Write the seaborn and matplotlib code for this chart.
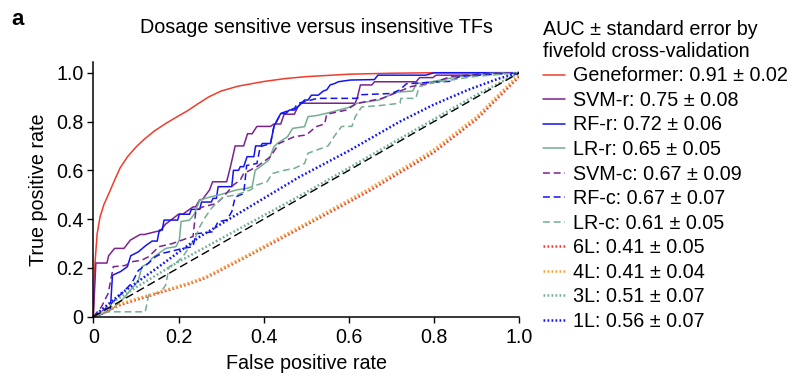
import numpy as np
import pandas as pd
import matplotlib
matplotlib.use("Agg")
import matplotlib.pyplot as plt
import seaborn as sns

# ---------------- data ----------------
geneformer = [(0, 0), (0.004, 0.22), (0.009, 0.34), (0.016, 0.41), (0.025, 0.46), (0.039, 0.515),
              (0.05, 0.56), (0.063, 0.61), (0.08, 0.655), (0.1, 0.695), (0.12, 0.728),
              (0.144, 0.762), (0.17, 0.792), (0.2, 0.823), (0.222, 0.845), (0.245, 0.872),
              (0.27, 0.9), (0.3, 0.925), (0.34, 0.945), (0.4, 0.964), (0.45, 0.976),
              (0.5, 0.984), (0.6, 0.994), (0.7, 0.998), (0.8, 1.0), (1.0, 1.0)]
svm_r = [(0, 0), (0.006, 0.22), (0.032, 0.22), (0.036, 0.25), (0.05, 0.28), (0.072, 0.28),
         (0.087, 0.314), (0.11, 0.337), (0.12, 0.337), (0.15, 0.35), (0.156, 0.35), (0.17, 0.38),
         (0.2, 0.42), (0.21, 0.42), (0.234, 0.45), (0.24, 0.45), (0.25, 0.48), (0.256, 0.48),
         (0.273, 0.52), (0.28, 0.553), (0.313, 0.553), (0.322, 0.615), (0.333, 0.70),
         (0.353, 0.70), (0.362, 0.75), (0.373, 0.75), (0.384, 0.78), (0.416, 0.78),
         (0.424, 0.79), (0.44, 0.79), (0.448, 0.83), (0.472, 0.83), (0.48, 0.86),
         (0.488, 0.875), (0.615, 0.875), (0.62, 0.90), (0.627, 0.95), (0.654, 0.95),
         (0.66, 0.963), (0.758, 0.963), (0.766, 0.98), (0.797, 0.98), (0.805, 0.99),
         (0.893, 0.99), (0.909, 1.0), (1, 1)]
rf_r = [(0, 0), (0.02, 0.01), (0.04, 0.03), (0.045, 0.17), (0.064, 0.185), (0.08, 0.205),
        (0.088, 0.25), (0.106, 0.266), (0.122, 0.29), (0.138, 0.31), (0.15, 0.31),
        (0.155, 0.355), (0.162, 0.355), (0.166, 0.396), (0.198, 0.396), (0.202, 0.42),
        (0.226, 0.42), (0.23, 0.44), (0.25, 0.44), (0.254, 0.47), (0.277, 0.47),
        (0.281, 0.485), (0.289, 0.485), (0.293, 0.533), (0.325, 0.533), (0.329, 0.60),
        (0.341, 0.60), (0.345, 0.615), (0.353, 0.615), (0.361, 0.656), (0.377, 0.656),
        (0.381, 0.70), (0.393, 0.70), (0.397, 0.71), (0.416, 0.71), (0.424, 0.78),
        (0.44, 0.833), (0.452, 0.833), (0.46, 0.847), (0.472, 0.847), (0.48, 0.86),
        (0.496, 0.888), (0.504, 0.888), (0.512, 0.908), (0.528, 0.908), (0.54, 0.925),
        (0.548, 0.93), (0.556, 0.95), (0.567, 0.956), (0.575, 0.963), (0.603, 0.97),
        (0.66, 0.972), (0.668, 0.99), (0.78, 0.99), (0.8, 1.0), (1, 1)]
lr_r = [(0, 0), (0.011, 0.007), (0.035, 0.02), (0.05, 0.04), (0.075, 0.082), (0.087, 0.109),
        (0.098, 0.13), (0.106, 0.15), (0.114, 0.205), (0.13, 0.22), (0.138, 0.24),
        (0.154, 0.26), (0.17, 0.28), (0.194, 0.287), (0.202, 0.314), (0.206, 0.39),
        (0.226, 0.396), (0.237, 0.42), (0.25, 0.478), (0.273, 0.49), (0.297, 0.50),
        (0.321, 0.512), (0.337, 0.52), (0.36, 0.526), (0.373, 0.533), (0.38, 0.60),
        (0.392, 0.615), (0.412, 0.642), (0.424, 0.697), (0.432, 0.71), (0.456, 0.738),
        (0.468, 0.772), (0.496, 0.779), (0.504, 0.82), (0.526, 0.825), (0.55, 0.835),
        (0.598, 0.857), (0.618, 0.874), (0.67, 0.888), (0.686, 0.90), (0.71, 0.92),
        (0.75, 0.925), (0.758, 0.955), (0.8, 0.965), (0.84, 0.978), (0.88, 0.99),
        (0.93, 0.997), (1, 1)]
svm_c = [(0, 0), (0.019, 0.04), (0.035, 0.096), (0.047, 0.205), (0.075, 0.21), (0.09, 0.225),
         (0.114, 0.232), (0.13, 0.246), (0.154, 0.287), (0.186, 0.30), (0.218, 0.32),
         (0.234, 0.328), (0.241, 0.437), (0.257, 0.45), (0.289, 0.464), (0.305, 0.49),
         (0.329, 0.54), (0.345, 0.56), (0.353, 0.587), (0.384, 0.615), (0.416, 0.656),
         (0.436, 0.71), (0.472, 0.738), (0.5, 0.745), (0.523, 0.779), (0.543, 0.79),
         (0.548, 0.83), (0.594, 0.847), (0.618, 0.874), (0.678, 0.895), (0.726, 0.929),
         (0.745, 0.943), (0.8, 0.96), (0.84, 0.985), (0.925, 0.997), (1, 1)]
rf_c = [(0, 0), (0.019, 0.02), (0.043, 0.055), (0.067, 0.096), (0.09, 0.137), (0.106, 0.19),
        (0.13, 0.22), (0.146, 0.246), (0.162, 0.26), (0.178, 0.266), (0.21, 0.28),
        (0.234, 0.287), (0.241, 0.34), (0.281, 0.348), (0.293, 0.39), (0.313, 0.396),
        (0.325, 0.43), (0.333, 0.49), (0.353, 0.505), (0.36, 0.62), (0.384, 0.628),
        (0.392, 0.697), (0.416, 0.71), (0.424, 0.78), (0.44, 0.833), (0.472, 0.854),
        (0.48, 0.874), (0.526, 0.895), (0.62, 0.895), (0.63, 0.91), (0.7, 0.915),
        (0.72, 0.93), (0.735, 0.955), (0.84, 0.965), (0.86, 0.985), (1, 1)]
lr_c = [(0, 0), (0.019, 0.014), (0.035, 0.02), (0.122, 0.02), (0.13, 0.089), (0.158, 0.10),
        (0.17, 0.13), (0.178, 0.205), (0.194, 0.22), (0.21, 0.246), (0.226, 0.287),
        (0.237, 0.314), (0.25, 0.369), (0.261, 0.403), (0.277, 0.444), (0.289, 0.465),
        (0.305, 0.49), (0.337, 0.50), (0.369, 0.52), (0.384, 0.54), (0.408, 0.553),
        (0.42, 0.587), (0.448, 0.60), (0.472, 0.608), (0.496, 0.628), (0.504, 0.67),
        (0.551, 0.70), (0.567, 0.743), (0.583, 0.78), (0.607, 0.78), (0.615, 0.82),
        (0.63, 0.86), (0.67, 0.865), (0.72, 0.875), (0.722, 0.895), (0.757, 0.895),
        (0.765, 0.943), (0.8, 0.96), (0.893, 0.984), (1, 1)]
l6 = [(0, 0), (0.066, 0.05), (0.144, 0.092), (0.222, 0.133), (0.265, 0.16), (0.37, 0.255),
      (0.485, 0.362), (0.642, 0.51), (0.798, 0.672), (0.9, 0.81), (1, 0.985)]
l4 = [(0, 0), (0.066, 0.055), (0.144, 0.096), (0.222, 0.137), (0.265, 0.164), (0.37, 0.26),
      (0.485, 0.369), (0.642, 0.519), (0.798, 0.683), (0.9, 0.82), (1, 0.995)]
l3 = [(0, 0), (0.05, 0.065), (0.1, 0.12), (0.2, 0.225), (0.3, 0.32), (0.4, 0.415),
      (0.5, 0.51), (0.6, 0.61), (0.7, 0.71), (0.8, 0.81), (0.9, 0.91), (1, 1)]
l1 = [(0, 0), (0.066, 0.096), (0.15, 0.2), (0.25, 0.328), (0.485, 0.574), (0.6, 0.68),
      (0.72, 0.80), (0.8, 0.87), (0.88, 0.93), (0.95, 0.975), (1, 1)]
chance = [(0, 0), (1, 1)]

labels = ["Geneformer: 0.91 \u00b1 0.02", "SVM-r: 0.75 \u00b1 0.08", "RF-r: 0.72 \u00b1 0.06",
          "LR-r: 0.65 \u00b1 0.05", "SVM-c: 0.67 \u00b1 0.09", "RF-c: 0.67 \u00b1 0.07",
          "LR-c: 0.61 \u00b1 0.05", "6L: 0.41 \u00b1 0.05", "4L: 0.41 \u00b1 0.04",
          "3L: 0.51 \u00b1 0.07", "1L: 0.56 \u00b1 0.07"]
tick_values = [0, 0.2, 0.4, 0.6, 0.8, 1.0]
tick_labels = ["0", "0.2", "0.4", "0.6", "0.8", "1.0"]

# ---------------- style ----------------
sns.set_style("ticks")
plt.rcParams["font.family"] = ["Liberation Sans", "DejaVu Sans"]
FS = 14.2
plt.rcParams["font.size"] = FS
plt.rcParams["text.color"] = "black"
plt.rcParams["axes.labelcolor"] = "black"
plt.rcParams["xtick.color"] = "black"
plt.rcParams["ytick.color"] = "black"

RED = "#f03c2c"
PURPLE = "#7a238e"
BLUE = "#1414f2"
GREEN = "#74ae92"
ORANGE = "#f8a237"

series = [geneformer, svm_r, rf_r, lr_r, svm_c, rf_c, lr_c, l6, l4, l3, l1]
colors = [RED, PURPLE, BLUE, GREEN, PURPLE, BLUE, GREEN, RED, ORANGE, GREEN, BLUE]
kinds = ["s", "s", "s", "s", "d", "d", "d", "o", "o", "o", "o"]

fig = plt.figure(figsize=(8.02, 3.78), dpi=100)
ax = fig.add_axes([93.3 / 802, 1 - 316.7 / 378, 426 / 802, (316.7 - 62) / 378])

handles = []
for pts, col, kind, lab in zip(series, colors, kinds, labels):
    arr = np.array(pts)
    df = pd.DataFrame({"fpr": arr[:, 0], "tpr": arr[:, 1]})
    if kind == "s":
        kw = dict(linewidth=1.1, linestyle="-")
    elif kind == "d":
        kw = dict(linewidth=1.1, dashes=(4.5, 2.5))
    else:
        kw = dict(linewidth=1.8, dashes=(0.7, 0.9))
    sns.lineplot(data=df, x="fpr", y="tpr", ax=ax, color=col, sort=False,
                 estimator=None, label=lab, legend=False, **kw)
    handles.append(ax.lines[-1])

ch = np.array(chance)
sns.lineplot(x=ch[:, 0], y=ch[:, 1], ax=ax, color="black", linewidth=1.0,
             dashes=(6, 3), sort=False, estimator=None, legend=False)

ax.set_xlim(0, 1.0)
ax.set_ylim(0, 1.044)
ax.set_xticks(tick_values)
ax.set_xticklabels(tick_labels)
ax.set_yticks(tick_values)
ax.set_yticklabels(tick_labels)
ax.tick_params(axis="both", direction="out", length=4, width=1.0, labelsize=FS,
               colors="black", labelcolor="black")
ax.tick_params(axis="x", pad=4)
ax.tick_params(axis="y", pad=3)
for s in ["left", "bottom"]:
    ax.spines[s].set_linewidth(1.1)
    ax.spines[s].set_color("black")
sns.despine(ax=ax)

ax.set_xlabel("False positive rate", fontsize=FS, labelpad=5, color="black")
ax.set_ylabel("True positive rate", fontsize=FS, labelpad=6, color="black")
ax.set_title("Dosage sensitive versus insensitive TFs", fontsize=FS, pad=21, x=0.523,
             color="black")

fig.text(0.014, 0.975, "a", fontsize=16, fontweight="bold", va="top", ha="left", color="black")

leg = fig.legend(handles, labels, loc="upper left", bbox_to_anchor=(535 / 802, 1 - 12 / 378),
                 frameon=False, fontsize=FS, title="AUC \u00b1 standard error by\nfivefold cross-validation",
                 title_fontsize=FS, handlelength=1.1, handletextpad=0.45, labelspacing=0.28,
                 borderaxespad=0, alignment="left", labelcolor="black")
leg.get_title().set_color("black")

fig.savefig("out.png", dpi=100)
